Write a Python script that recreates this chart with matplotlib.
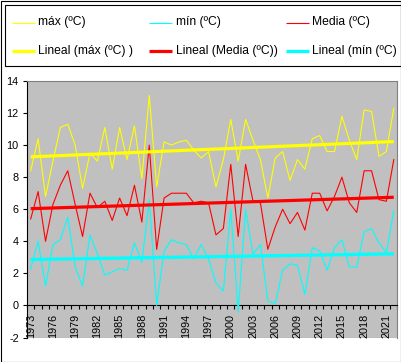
import numpy as np
import matplotlib
matplotlib.use("Agg")
import matplotlib.pyplot as plt
from matplotlib.lines import Line2D
from matplotlib.patches import Rectangle

plt.rcParams['font.family'] = ['Liberation Sans', 'DejaVu Sans']

years = list(range(1973, 2023))
tmax = [8.4, 10.4, 6.8, 9.0, 11.1, 11.3, 10.0, 7.3, 9.5, 9.0,
        11.1, 8.5, 11.1, 9.1, 11.2, 7.9, 13.1, 7.4, 10.2, 10.0,
        10.2, 10.3, 9.7, 9.2, 9.6, 7.4, 9.1, 11.6, 9.0, 11.6,
        10.3, 9.1, 6.7, 9.2, 9.6, 7.8, 9.1, 8.5, 10.4, 10.6,
        9.6, 9.6, 11.8, 10.3, 9.1, 12.2, 12.1, 9.3, 9.6, 12.3]
tmed = [5.4, 7.1, 4.0, 6.3, 7.5, 8.4, 6.3, 4.3, 7.0, 6.1,
        6.5, 5.3, 6.7, 5.6, 7.5, 5.2, 10.0, 3.5, 6.7, 7.0,
        7.0, 7.0, 6.4, 6.5, 6.4, 4.4, 4.8, 8.8, 4.3, 8.8,
        6.5, 6.4, 3.5, 4.9, 6.0, 5.1, 5.8, 4.7, 7.0, 7.0,
        5.9, 6.8, 8.0, 6.4, 5.8, 8.4, 8.4, 6.6, 6.5, 9.1]
tmin = [2.3, 4.0, 1.2, 3.8, 4.1, 5.5, 2.4, 1.2, 4.4, 3.2,
        1.9, 2.1, 2.3, 2.2, 3.9, 2.7, 6.6, 0.0, 3.4, 4.1,
        3.9, 3.8, 2.9, 3.8, 2.9, 1.4, 0.9, 6.0, -0.4, 6.0,
        3.2, 3.8, 0.3, 0.1, 2.2, 2.6, 2.5, 0.7, 3.6, 3.4,
        2.2, 3.6, 4.1, 2.4, 2.4, 4.6, 4.8, 3.9, 3.3, 5.9]
yticks = [-2, 0, 2, 4, 6, 8, 10, 12, 14]
legend_labels = ["máx (ºC)", "mín (ºC)", "Media (ºC)",
                 "Lineal (máx (ºC) )", "Lineal (Media (ºC))", "Lineal (mín (ºC)"]

W, H = 402, 362
fig = plt.figure(figsize=(W / 100, H / 100), dpi=100)
fig.patch.set_facecolor('white')

def fx(px):
    return px / W

def fy(py):
    return 1 - py / H

ax = fig.add_axes([fx(27), fy(337.5), (397.5 - 27) / W, (337.5 - 81) / H])
ax.set_facecolor('#C0C0C0')
x = np.arange(len(years))

YEL, CYA, RED = '#FFFF00', '#00FFFF', '#FF0000'
ax.plot(x, tmax, color=YEL, lw=0.8, zorder=3)
ax.plot(x, tmin, color=CYA, lw=0.8, zorder=3)
ax.plot(x, tmed, color=RED, lw=0.8, zorder=3)

for series, col in ((tmax, YEL), (tmed, RED), (tmin, CYA)):
    p = np.polyfit(x, series, 1)
    ax.plot(x, np.polyval(p, x), color=col, lw=2.3, zorder=4, solid_capstyle='butt')

ax.set_xlim(-0.5, len(years) - 0.5)
ax.set_ylim(-2, 14)

for s in ('top', 'right'):
    ax.spines[s].set_color('#808080')
    ax.spines[s].set_linewidth(0.8)
ax.spines['left'].set_color('black')
ax.spines['left'].set_linewidth(0.8)
ax.spines['bottom'].set_position(('data', 0))
ax.spines['bottom'].set_color('black')
ax.spines['bottom'].set_linewidth(0.8)
ax.axhline(-2, color='#808080', lw=0.8, zorder=1)

ax.set_yticks(yticks)
ax.set_yticklabels([str(v) for v in yticks])
ax.tick_params(axis='y', direction='out', length=3, width=0.8, pad=3, labelsize=7.8, colors='black')

label_idx = list(range(0, len(years), 3))
ax.set_xticks(label_idx)
ax.set_xticklabels([str(years[i]) for i in label_idx], rotation=90)
ax.set_xticks(np.arange(-0.5, len(years), 1), minor=True)
ax.tick_params(axis='x', which='major', length=0, pad=6, labelsize=7.8)
ax.tick_params(axis='x', which='minor', direction='out', length=3, width=0.8)
for lab in ax.get_xticklabels():
    lab.set_va('top')

# legend (manual, Excel-like)
fig.add_artist(Rectangle((fx(5.5), fy(65.5)), fx(401) - fx(5.5), fy(5.5) - fy(65.5),
                         transform=fig.transFigure, fill=False, edgecolor='black', lw=0.8))
cols = [(12, 35, 38.5), (149, 172, 176), (286, 309, 312.5)]
rows = [22.5, 51]
styles = [(YEL, 0.8), (CYA, 0.8), (RED, 0.8), (YEL, 2.3), (RED, 2.3), (CYA, 2.3)]
for k, lab in enumerate(legend_labels):
    r, c = divmod(k, 3)
    x0, x1, tx = cols[c]
    col, lw = styles[k]
    yy = fy(rows[r])
    fig.add_artist(Line2D([fx(x0), fx(x1)], [yy, yy], transform=fig.transFigure,
                          color=col, lw=lw, solid_capstyle='butt'))
    fig.text(fx(tx), yy, lab, fontsize=8.7, va='center', ha='left', color='black')

# outer chart border
fig.add_artist(Rectangle((fx(0.5), fy(361.5)), fx(401.5) - fx(0.5), fy(0.5) - fy(361.5),
                         transform=fig.transFigure, fill=False, edgecolor='black', lw=0.8))

fig.savefig('out.png', dpi=100)
